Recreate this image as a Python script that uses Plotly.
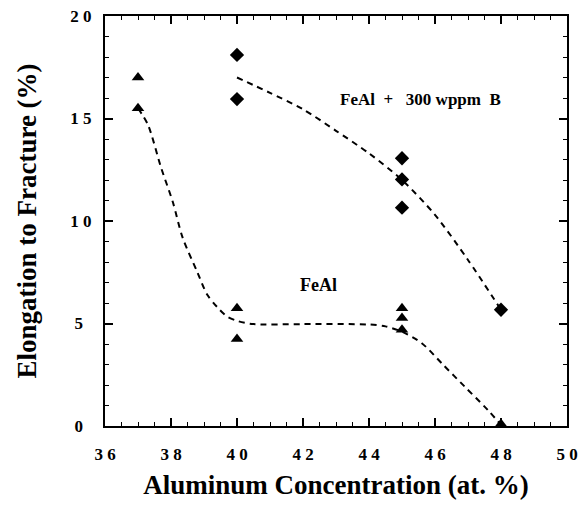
import plotly.graph_objects as go

feal_x = [37, 37, 40, 40, 45, 45, 45, 48]
feal_y = [17.0, 15.5, 5.75, 4.25, 5.75, 5.27, 4.69, 0.1]

boron_x = [40, 40, 45, 45, 45, 48]
boron_y = [18.1, 15.95, 13.06, 12.03, 10.65, 5.67]

# Dashed trend curves
feal_fit_x = [37.0, 37.3, 37.7, 38.06, 38.35, 38.8, 39.1, 39.4, 39.7, 40.0, 40.5, 42.0, 44.0, 44.5, 45.0, 45.6, 46.25, 46.9, 47.6, 48.0]
feal_fit_y = [15.5, 14.7, 12.6, 10.9, 9.2, 7.5, 6.4, 5.8, 5.34, 5.13, 4.97, 4.97, 4.95, 4.86, 4.6, 4.04, 2.98, 1.92, 0.78, 0.05]

boron_fit_x = [40, 41, 42, 43, 44, 45, 46, 47, 48]
boron_fit_y = [17.0, 16.25, 15.45, 14.4, 13.3, 12.0, 10.3, 8.1, 5.67]

x_tick_vals = [36, 38, 40, 42, 44, 46, 48, 50]
x_tick_text = ["3 6", "3 8", "4 0", "4 2", "4 4", "4 6", "4 8", "5 0"]
y_tick_vals = [0, 5, 10, 15, 20]
y_tick_text = ["0", "5", "1 0", "1 5", "2 0"]

NB = "\u00a0"
def fmt(t):
    return t.replace(" ", NB)

y_labels = [fmt(t) if len(t) > 1 else t + NB * 2 for t in y_tick_text]
x_labels = [fmt(t) for t in x_tick_text]

FONT = "Liberation Serif"
dash = "6px,5px"

fig = go.Figure()
fig.add_trace(go.Scatter(x=feal_fit_x, y=feal_fit_y, mode="lines",
                         line=dict(color="black", width=2, dash=dash, shape="spline", smoothing=0.8),
                         hoverinfo="skip", showlegend=False))
fig.add_trace(go.Scatter(x=boron_fit_x, y=boron_fit_y, mode="lines",
                         line=dict(color="black", width=2, dash=dash, shape="spline", smoothing=0.8),
                         hoverinfo="skip", showlegend=False))
fig.add_trace(go.Scatter(x=feal_x, y=feal_y, mode="markers", name="FeAl",
                         marker=dict(symbol="triangle-up", size=11, color="black"),
                         cliponaxis=False, showlegend=False))
fig.add_trace(go.Scatter(x=boron_x, y=boron_y, mode="markers", name="FeAl + 300 wppm B",
                         marker=dict(symbol="diamond", size=11, color="black"),
                         cliponaxis=False, showlegend=False))

fig.add_annotation(x=45.55, y=15.94,
                   text="<b>FeAl" + NB * 2 + "+" + NB * 3 + "300 wppm" + NB * 2 + "B</b>",
                   showarrow=False, font=dict(family=FONT, size=17, color="black"))
fig.add_annotation(x=42.48, y=6.9, text="<b>FeAl</b>", showarrow=False,
                   font=dict(family=FONT, size=18, color="black"))

axis_common = dict(showgrid=False, zeroline=False, showline=True, linecolor="black", linewidth=2,
                   mirror="ticks", ticks="inside", tickcolor="black", tickwidth=1.5, ticklen=8,
                   tickfont=dict(family=FONT, size=17, color="black", weight="bold"))

fig.update_layout(
    width=582, height=515,
    margin=dict(l=105, r=15, t=16, b=89),
    paper_bgcolor="white", plot_bgcolor="white",
    xaxis=dict(range=[36, 50], tickvals=x_tick_vals, ticktext=x_labels,
               minor=dict(dtick=0.5, ticks="inside", ticklen=4, tickcolor="black", tickwidth=1),
               ticklabelstandoff=12,
               title=dict(text="<b>Aluminum Concentration (at. %)</b>", standoff=12,
                          font=dict(family=FONT, size=27, color="black")),
               automargin=False, **axis_common),
    yaxis=dict(range=[0, 20], tickvals=y_tick_vals, ticktext=y_labels,
               minor=dict(dtick=1, ticks="inside", ticklen=4, tickcolor="black", tickwidth=1),
               ticklabelstandoff=8,
               title=dict(text="<b>Elongation to Fracture (%)</b>", standoff=26,
                          font=dict(family=FONT, size=27, color="black")),
               automargin=False, **axis_common),
)

# Remove the default 8px page margin so the figure fills the 582x515 window exactly.
fig.write_html("out.html", config={"displayModeBar": False},
               post_script="document.body.style.margin='0';")
